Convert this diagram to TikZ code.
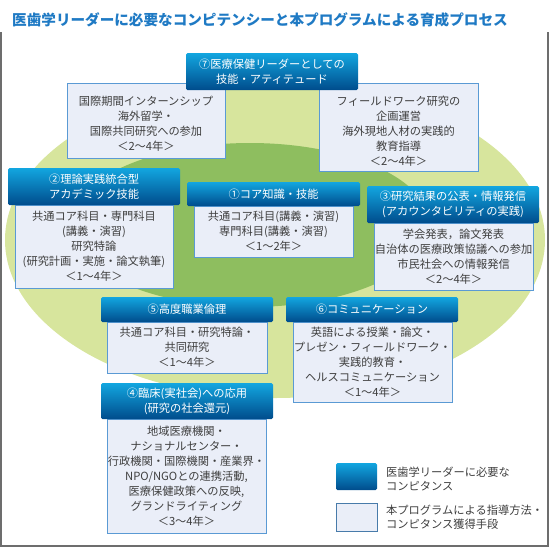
\documentclass[tikz,border=0pt]{standalone}
\usepackage{fontspec}
\setmainfont{Noto Sans CJK JP}
\definecolor{titleblue}{HTML}{1F7AC4}
\definecolor{hdrtop}{HTML}{12A6E0}
\definecolor{hdrbot}{HTML}{004C8C}
\definecolor{bodyfill}{HTML}{EAEEF8}
\definecolor{bodyline}{HTML}{5A9AD4}
\definecolor{lightgreen}{HTML}{D7E59D}
\definecolor{darkgreen}{HTML}{8EBE5F}
\definecolor{txtgray}{HTML}{3F3F3F}
\definecolor{framegray}{HTML}{6D6D6D}
\begin{document}
\begin{tikzpicture}[x=1pt,y=-1pt,
  hdr/.style={draw=none, top color=hdrtop, bottom color=hdrbot, rounded corners=1.5pt,
    inner sep=0pt, outer sep=0pt, text=white, align=center,
    font=\fontsize{11.25}{15}\selectfont},
  bodybox/.style={draw=bodyline, fill=bodyfill, line width=0.9pt, inner sep=0pt, outer sep=0pt,
    text=txtgray, align=center, font=\fontsize{11.25}{15}\selectfont},
  bodytxt/.style={text=txtgray, align=center, font=\fontsize{11.25}{15}\selectfont, inner sep=0pt},
  legtxt/.style={text=txtgray, align=left, anchor=west, font=\fontsize{11.25}{14}\selectfont, inner sep=0pt}]
\useasboundingbox (0,0) rectangle (550,550);
% frame
\draw[framegray, line width=1.4pt] (1,32) -- (1,546) -- (548,546) -- (548,32);
% title
\node[anchor=west, text=titleblue, inner sep=0pt, font=\bfseries\fontsize{14.6}{16}\selectfont] (title) at (12,20)
  {医歯学リーダーに必要なコンピテンシーと本プログラムによる育成プロセス};
% ellipses
\fill[lightgreen] (275,240) ellipse [x radius=270, y radius=158];
\fill[darkgreen] (250,225) ellipse [x radius=180, y radius=82];
% 7
\node[bodybox, minimum width=158, minimum height=75] (b7l) at (146,120.5) {};
\node[bodytxt] (t7l) at (146,124.2) {国際期間インターンシップ\\海外留学・\\国際共同研究への参加\\＜2～4年＞};
\node[bodybox, minimum width=159, minimum height=88] (b7r) at (398.5,127) {};
\node[bodytxt] (t7r) at (398.5,131.7) {フィールドワーク研究の\\企画運営\\海外現地人材の実践的\\教育指導\\＜2～4年＞};
\node[hdr, minimum width=172, minimum height=37] (h7) at (272,71.5) {⑦医療保健リーダーとしての\\技能・アティテュード};
% 2
\node[bodybox, minimum width=158, minimum height=83] (b2) at (94,246.5) {共通コア科目・専門科目\\(講義・演習)\\研究特論\\(研究計画・実施・論文執筆)\\＜1～4年＞};
\node[hdr, minimum width=172, minimum height=37] (h2) at (94,186.5) {②理論実践統合型\\アカデミック技能};
% 1
\node[bodybox, minimum width=159, minimum height=51] (b1) at (273.5,231.5) {共通コア科目(講義・演習)\\専門科目(講義・演習)\\＜1～2年＞};
\node[hdr, minimum width=173, minimum height=24] (h1) at (273.5,194) {①コア知識・技能};
% 3
\node[bodybox, minimum width=159, minimum height=67] (b3) at (453.5,256.5) {学会発表，論文発表\\自治体の医療政策協議への参加\\市民社会への情報発信\\＜2～4年＞};
\node[hdr, minimum width=172, minimum height=37] (h3) at (453,204.5) {③研究結果の公表・情報発信\\(アカウンタビリティの実践)};
% 5
\node[bodybox, minimum width=160, minimum height=51] (b5) at (187,347.5) {共通コア科目・研究特論・\\共同研究\\＜1～4年＞};
\node[hdr, minimum width=172, minimum height=25] (h5) at (187,309.5) {⑤高度職業倫理};
% 6
\node[bodybox, minimum width=159, minimum height=80] (b6) at (372.5,362) {英語による授業・論文・\\プレゼン・フィールドワーク・\\実践的教育・\\ヘルスコミュニケーション\\＜1～4年＞};
\node[hdr, minimum width=172, minimum height=25] (h6) at (372,309.5) {⑥コミュニケーション};
% 4
\node[bodybox, minimum width=159, minimum height=114] (b4) at (186.5,476) {地域医療機関・\\ナショナルセンター・\\行政機関・国際機関・産業界・\\NPO/NGOとの連携活動,\\医療保健政策への反映,\\グランドライティング\\＜3～4年＞};
\node[hdr, minimum width=172, minimum height=36] (h4) at (187,401) {④臨床(実社会)への応用\\(研究の社会還元)};
% legend
\node[hdr, minimum width=41, minimum height=27] (lg1) at (356.5,476.5) {};
\node[legtxt] (lt1) at (386,478.5) {医歯学リーダーに必要な\\コンピタンス};
\node[bodybox, draw=bodyline!80!black, minimum width=41, minimum height=28] (lg2) at (356.5,517) {};
\node[legtxt] (lt2) at (386,517.5) {本プログラムによる指導方法・\\コンピタンス獲得手段};
\end{tikzpicture}
\end{document}
